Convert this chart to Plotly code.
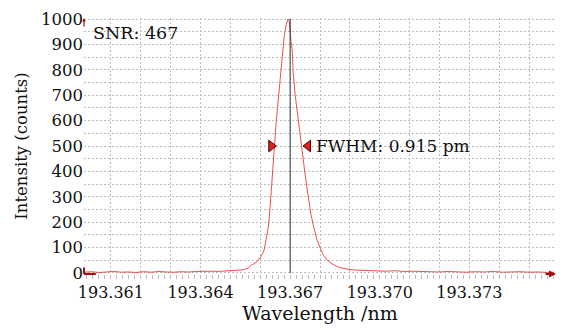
import plotly.graph_objects as go

# Spectrum (wavelength in nm, intensity in counts)
wavelength = [
    193.36010, 193.36035, 193.36060, 193.36085, 193.36110, 193.36135, 193.36160, 193.36185,
    193.36210, 193.36235, 193.36260, 193.36285, 193.36310, 193.36335, 193.36360, 193.36385,
    193.36410, 193.36435, 193.36460, 193.36485, 193.36510, 193.36530,
    193.36547, 193.36560, 193.36570, 193.36590, 193.36603, 193.36613, 193.36620, 193.36627,
    193.36633, 193.36640, 193.36647, 193.36653, 193.36660, 193.36667, 193.36673, 193.36680,
    193.36687, 193.36693, 193.36697, 193.36700, 193.36703, 193.36707, 193.36710, 193.36717,
    193.36723, 193.36730, 193.36737, 193.36743, 193.36750, 193.36757, 193.36763, 193.36770,
    193.36777, 193.36783, 193.36790, 193.36800, 193.36810, 193.36823, 193.36840, 193.36863,
    193.36897, 193.36930, 193.36960, 193.36990, 193.37020, 193.37050, 193.37080, 193.37110,
    193.37140, 193.37170, 193.37200, 193.37230, 193.37260, 193.37290, 193.37320, 193.37350,
    193.37380, 193.37410, 193.37440, 193.37470, 193.37500, 193.37530, 193.37560, 193.37583,
]
intensity = [
    3, 5, 2, 4, 6, 3, 4, 2,
    5, 3, 6, 4, 3, 5, 4, 6,
    5, 7, 6, 8, 8, 10,
    13, 20, 30, 45, 65, 90, 130, 180,
    260, 360, 490, 590, 680, 760, 860, 930,
    980, 1000, 990, 940, 910, 880, 790, 700,
    640, 570, 510, 460, 390, 330, 280, 230,
    190, 160, 130, 100, 72, 52, 36, 22,
    14, 11, 9, 8, 7, 9, 6, 7,
    5, 6, 4, 6, 5, 3, 5, 4,
    6, 3, 4, 5, 3, 4, 2, 3,
]

x_grid = [193.361 + 0.001 * i for i in range(15)]
x_labels = {193.361: "193.361", 193.364: "193.364", 193.367: "193.367",
            193.370: "193.370", 193.373: "193.373"}
peak_wl = 193.367
fwhm_left = 193.36637
fwhm_right = 193.36760
fwhm_level = 500
snr_text = "SNR: 467"
fwhm_text = "FWHM: 0.915 pm"

FONT = "DejaVu Serif"
fig = go.Figure()

fig.add_trace(go.Scatter(
    x=wavelength, y=intensity, mode="lines",
    line=dict(color="rgba(232,50,50,0.85)", width=1),
    showlegend=False, hoverinfo="skip"))

# centre line
fig.add_trace(go.Scatter(
    x=[peak_wl, peak_wl], y=[0, 1000], mode="lines",
    line=dict(color="#333333", width=1), showlegend=False, hoverinfo="skip"))

# FWHM markers
fig.add_trace(go.Scatter(
    x=[fwhm_left, fwhm_right], y=[fwhm_level, fwhm_level], mode="markers",
    marker=dict(symbol=["triangle-right", "triangle-left"], size=10,
                color="#e02020", line=dict(color="#400000", width=1)),
    showlegend=False, hoverinfo="skip"))

ticktext = []
for v in x_grid:
    key = round(v, 3)
    ticktext.append(x_labels.get(key, ""))

fig.update_xaxes(
    range=[193.3601, 193.3759],
    tickvals=x_grid, ticktext=ticktext,
    showgrid=True, gridcolor="#bdbdbd", griddash="2px,2px", gridwidth=1,
    ticks="outside", ticklen=4, tickcolor="#bbbbbb",
    minor=dict(dtick=0.0002, tick0=193.361, ticks="outside", ticklen=4,
               tickcolor="#bbbbbb", showgrid=False),
    showline=False, zeroline=False,
    tickfont=dict(family=FONT, size=16, color="#111"),
    title=dict(text="Wavelength /nm", font=dict(family=FONT, size=19, color="#111"),
               standoff=2),
)
fig.update_yaxes(
    range=[-4, 1004],
    dtick=100, tick0=0,
    showgrid=True, gridcolor="#bdbdbd", griddash="2px,2px", gridwidth=1,
    minor=dict(dtick=50, showgrid=True, gridcolor="#bdbdbd", griddash="2px,2px",
               ticks=""),
    ticks="", showline=False, zeroline=False,
    tickfont=dict(family=FONT, size=16.5, color="#111"),
    title=dict(text="Intensity (counts)", font=dict(family=FONT, size=16.5, color="#111"),
               standoff=9),
)

# SNR and FWHM labels
fig.add_annotation(x=0.015, xref="paper", y=0.94, yref="paper", text=snr_text,
                   showarrow=False, xanchor="left", yanchor="middle",
                   font=dict(family=FONT, size=17.5, color="#111"))
fig.add_annotation(x=193.36779, y=fwhm_level, text=fwhm_text, showarrow=False,
                   xanchor="left", yanchor="middle",
                   font=dict(family=FONT, size=17, color="#111"))

# small red axis cursors at the corners
fig.add_annotation(x=0, xref="paper", y=1.0, yref="paper", ax=0, ay=10,
                   showarrow=True, arrowhead=2, arrowsize=0.6, arrowwidth=1.2,
                   arrowcolor="#a01010", text="")
fig.add_shape(type="line", xref="paper", yref="paper", x0=0, x1=0, y0=0.0, y1=0.025,
              line=dict(color="#a01010", width=2))
fig.add_shape(type="line", xref="paper", yref="paper", x0=0, x1=0.025, y0=0.0, y1=0.0,
              line=dict(color="#a01010", width=2))
fig.add_annotation(x=1.0, xref="paper", y=0.0, yref="paper", ax=-12, ay=0,
                   showarrow=True, arrowhead=2, arrowsize=0.7, arrowwidth=2,
                   arrowcolor="#a01010", text="")

fig.update_layout(
    width=566, height=330,
    margin=dict(l=84, r=10, t=10, b=56),
    plot_bgcolor="white", paper_bgcolor="white",
)

fig.write_html("out.html")
